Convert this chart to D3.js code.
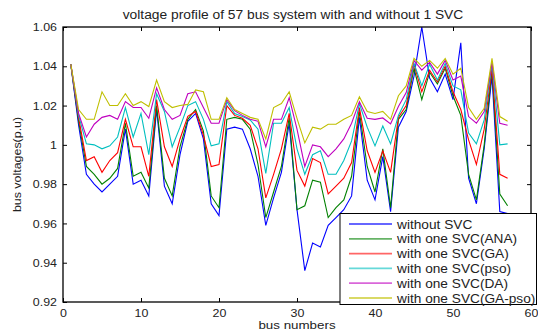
<!DOCTYPE html>
<html>
<head>
<meta charset="utf-8">
<script src="https://cdn.jsdelivr.net/npm/d3@7"></script>
<style>
  body { margin: 0; background: #fff; }
  svg { font-family: "Liberation Sans", Arial, sans-serif; }
</style>
</head>
<body>
<div id="chart"></div>
<script>
// bus numbers 1..57
const buses = d3.range(1, 58);

const withoutSVC = [1.041, 1.010, 0.985, 0.980, 0.976, 0.980, 0.984, 1.008, 0.980, 0.982,
  0.974, 1.018, 0.979, 0.970, 0.995, 1.012, 1.016, 1.003, 0.970, 0.964,
  1.008, 1.009, 1.008, 0.998, 0.984, 0.959, 0.973, 0.986, 1.011, 0.967,
  0.936, 0.950, 0.948, 0.959, 0.963, 0.967, 0.974, 1.014, 0.982, 0.972,
  0.994, 0.966, 1.009, 1.017, 1.035, 1.060, 1.034, 1.027, 1.036, 1.023,
  1.052, 0.983, 0.970, 0.998, 1.035, 0.966, 0.965];

const svcANA = [1.041, 1.012, 0.989, 0.985, 0.980, 0.983, 0.988, 1.011, 0.984, 0.986,
  0.978, 1.020, 0.983, 0.974, 0.999, 1.013, 1.018, 1.007, 0.974, 0.968,
  1.013, 1.014, 1.013, 1.008, 0.990, 0.963, 0.976, 0.989, 1.014, 0.967,
  0.969, 0.982, 0.981, 0.963, 0.968, 0.972, 0.984, 1.017, 0.989, 0.976,
  0.998, 0.968, 1.013, 1.018, 1.039, 1.023, 1.037, 1.031, 1.039, 1.025,
  1.015, 0.985, 0.972, 1.000, 1.038, 0.975, 0.969];

const svcGA = [1.041, 1.014, 0.992, 0.994, 0.986, 0.992, 0.996, 1.013, 0.999, 0.999,
  0.984, 1.023, 0.999, 0.989, 1.003, 1.0145, 1.017, 1.005, 0.989, 0.990,
  1.020, 1.015, 1.0135, 1.010, 0.998, 0.973, 0.985, 0.998, 1.016, 0.987,
  0.979, 0.993, 0.991, 0.975, 0.979, 0.983, 0.991, 1.019, 0.997, 0.986,
  0.997, 0.986, 1.014, 1.020, 1.041, 1.027, 1.038, 1.032, 1.040, 1.027,
  1.018, 1.0025, 0.990, 1.008, 1.039, 0.985, 0.983];

const svcPSO = [1.041, 1.015, 1.0005, 1.000, 0.998, 0.9995, 1.004, 1.019, 1.004, 1.016,
  0.995, 1.026, 1.017, 0.999, 1.009, 1.020, 1.022, 1.013, 0.9995, 1.0005,
  1.022, 1.016, 1.0144, 1.0127, 1.008, 0.9855, 1.011, 1.011, 1.019, 0.998,
  0.985, 0.995, 0.997, 0.985, 0.985, 0.992, 1.002, 1.021, 1.009, 0.9995,
  1.0096, 1.0005, 1.015, 1.023, 1.0415, 1.030, 1.041, 1.033, 1.0415, 1.030,
  1.028, 1.006, 1.0005, 1.0127, 1.0415, 1.000, 1.0005];

const svcDA = [1.041, 1.016, 1.004, 1.0105, 1.014, 1.015, 1.013, 1.022, 1.019, 1.019,
  1.0135, 1.029, 1.018, 1.013, 1.015, 1.026, 1.027, 1.019, 1.011, 1.011,
  1.023, 1.0174, 1.015, 1.013, 1.012, 0.999, 1.013, 1.013, 1.024, 1.008,
  0.989, 1.000, 0.999, 0.994, 0.998, 1.003, 1.011, 1.022, 1.0135, 1.013,
  1.0137, 1.0107, 1.0195, 1.0266, 1.043, 1.038, 1.042, 1.036, 1.043, 1.033,
  1.035, 1.0144, 1.011, 1.017, 1.042, 1.011, 1.010];

const svcGAPSO = [1.041, 1.018, 1.013, 1.013, 1.027, 1.020, 1.020, 1.026, 1.020, 1.022,
  1.0195, 1.033, 1.022, 1.019, 1.020, 1.0206, 1.028, 1.027, 1.013, 1.013,
  1.024, 1.018, 1.016, 1.014, 1.013, 1.003, 1.019, 1.021, 1.027, 1.0135,
  1.001, 1.009, 1.008, 1.0105, 1.0105, 1.013, 1.015, 1.0245, 1.017, 1.016,
  1.017, 1.013, 1.025, 1.030, 1.044, 1.040, 1.043, 1.039, 1.044, 1.036,
  1.039, 1.019, 1.013, 1.0186, 1.044, 1.0144, 1.012];

const seriesNames = ["without SVC", "with one SVC(ANA)", "with one SVC(GA)",
  "with one SVC(pso)", "with one SVC(DA)", "with one SVC(GA-pso)"];
const seriesColors = ["#0000ff", "#008000", "#ff0000", "#00bfbf", "#bf00bf", "#bfbf00"];
const seriesValues = [withoutSVC, svcANA, svcGA, svcPSO, svcDA, svcGAPSO];

const xTicks = [0, 10, 20, 30, 40, 50, 60];
const yTicks = [0.92, 0.94, 0.96, 0.98, 1, 1.02, 1.04, 1.06];

const W = 538, H = 330;
const margin = { top: 27, right: 7, bottom: 28, left: 63 };

const svg = d3.select("#chart").append("svg")
  .attr("width", W).attr("height", H);

const x = d3.scaleLinear().domain([0, 60]).range([margin.left, W - margin.right]);
const y = d3.scaleLinear().domain([0.92, 1.06]).range([H - margin.bottom, margin.top]);

// text in the picture is wider than the font, stretch it a little
const stretch = function (sel, k) {
  sel.each(function () {
    const w = this.getComputedTextLength();
    d3.select(this).attr("textLength", w * k).attr("lengthAdjust", "spacingAndGlyphs");
  });
};

// series lines
const line = d3.line()
  .x((d, i) => x(buses[i]))
  .y(d => y(d));

svg.append("g")
  .selectAll("path")
  .data(seriesValues)
  .enter()
  .append("path")
  .attr("d", d => line(d))
  .attr("fill", "none")
  .attr("stroke", (d, i) => seriesColors[i])
  .attr("stroke-width", 1.1);

// axes, matlab style with inward ticks on all four sides
const fmt = d => String(+d.toFixed(2));

svg.append("g")
  .attr("transform", "translate(0," + y.range()[0] + ")")
  .call(d3.axisBottom(x).tickValues(xTicks).tickSize(-4).tickPadding(6.5).tickSizeOuter(0))
  .call(g => g.select(".domain").remove());
svg.append("g")
  .attr("transform", "translate(0," + y.range()[1] + ")")
  .call(d3.axisTop(x).tickValues(xTicks).tickSize(-4).tickFormat("").tickSizeOuter(0))
  .call(g => g.select(".domain").remove());
svg.append("g")
  .attr("transform", "translate(" + x.range()[0] + ",0)")
  .call(d3.axisLeft(y).tickValues(yTicks).tickSize(-4).tickPadding(6).tickFormat(fmt).tickSizeOuter(0))
  .call(g => g.select(".domain").remove());
svg.append("g")
  .attr("transform", "translate(" + x.range()[1] + ",0)")
  .call(d3.axisRight(y).tickValues(yTicks).tickSize(-4).tickFormat("").tickSizeOuter(0))
  .call(g => g.select(".domain").remove());

svg.selectAll(".tick text")
  .attr("font-size", 11.5)
  .attr("font-family", "Liberation Sans, Arial, sans-serif")
  .attr("fill", "#222")
  .call(stretch, 1.08);

// box
svg.append("rect")
  .attr("x", x.range()[0]).attr("y", y.range()[1])
  .attr("width", x.range()[1] - x.range()[0])
  .attr("height", y.range()[0] - y.range()[1])
  .attr("fill", "none")
  .attr("stroke", "#000")
  .attr("stroke-width", 1.3);

// title and axis labels
svg.append("text")
  .attr("x", 293)
  .attr("y", 19)
  .attr("text-anchor", "middle")
  .attr("font-size", 12)
  .attr("fill", "#222")
  .text("voltage profile of 57 bus system with and without 1 SVC")
  .call(stretch, 1.15);

svg.append("text")
  .attr("x", (x.range()[0] + x.range()[1]) / 2)
  .attr("y", 329)
  .attr("text-anchor", "middle")
  .attr("font-size", 11.5)
  .attr("fill", "#222")
  .text("bus numbers")
  .call(stretch, 1.16);

svg.append("text")
  .attr("transform", "translate(21," + ((y.range()[0] + y.range()[1]) / 2) + ") rotate(-90)")
  .attr("text-anchor", "middle")
  .attr("font-size", 11.5)
  .attr("fill", "#222")
  .text("bus voltages(p.u)")
  .call(stretch, 1.08);

// legend
const legend = svg.append("g").attr("transform", "translate(340,213.5)");
legend.append("rect")
  .attr("width", 196.5).attr("height", 91)
  .attr("fill", "#fff")
  .attr("stroke", "#000")
  .attr("stroke-width", 1);

const items = legend.selectAll("g.item")
  .data(seriesNames)
  .enter()
  .append("g")
  .attr("class", "item")
  .attr("transform", (d, i) => "translate(0," + (10.5 + i * 14.8) + ")");
items.append("line")
  .attr("x1", 9).attr("x2", 52)
  .attr("stroke", (d, i) => seriesColors[i])
  .attr("stroke-opacity", 0.6)
  .attr("stroke-width", 1.8);
items.append("text")
  .attr("x", 57)
  .attr("y", 4.5)
  .attr("font-size", 12)
  .attr("fill", "#222")
  .text(d => d)
  .call(stretch, 1.14);
</script>
</body>
</html>
